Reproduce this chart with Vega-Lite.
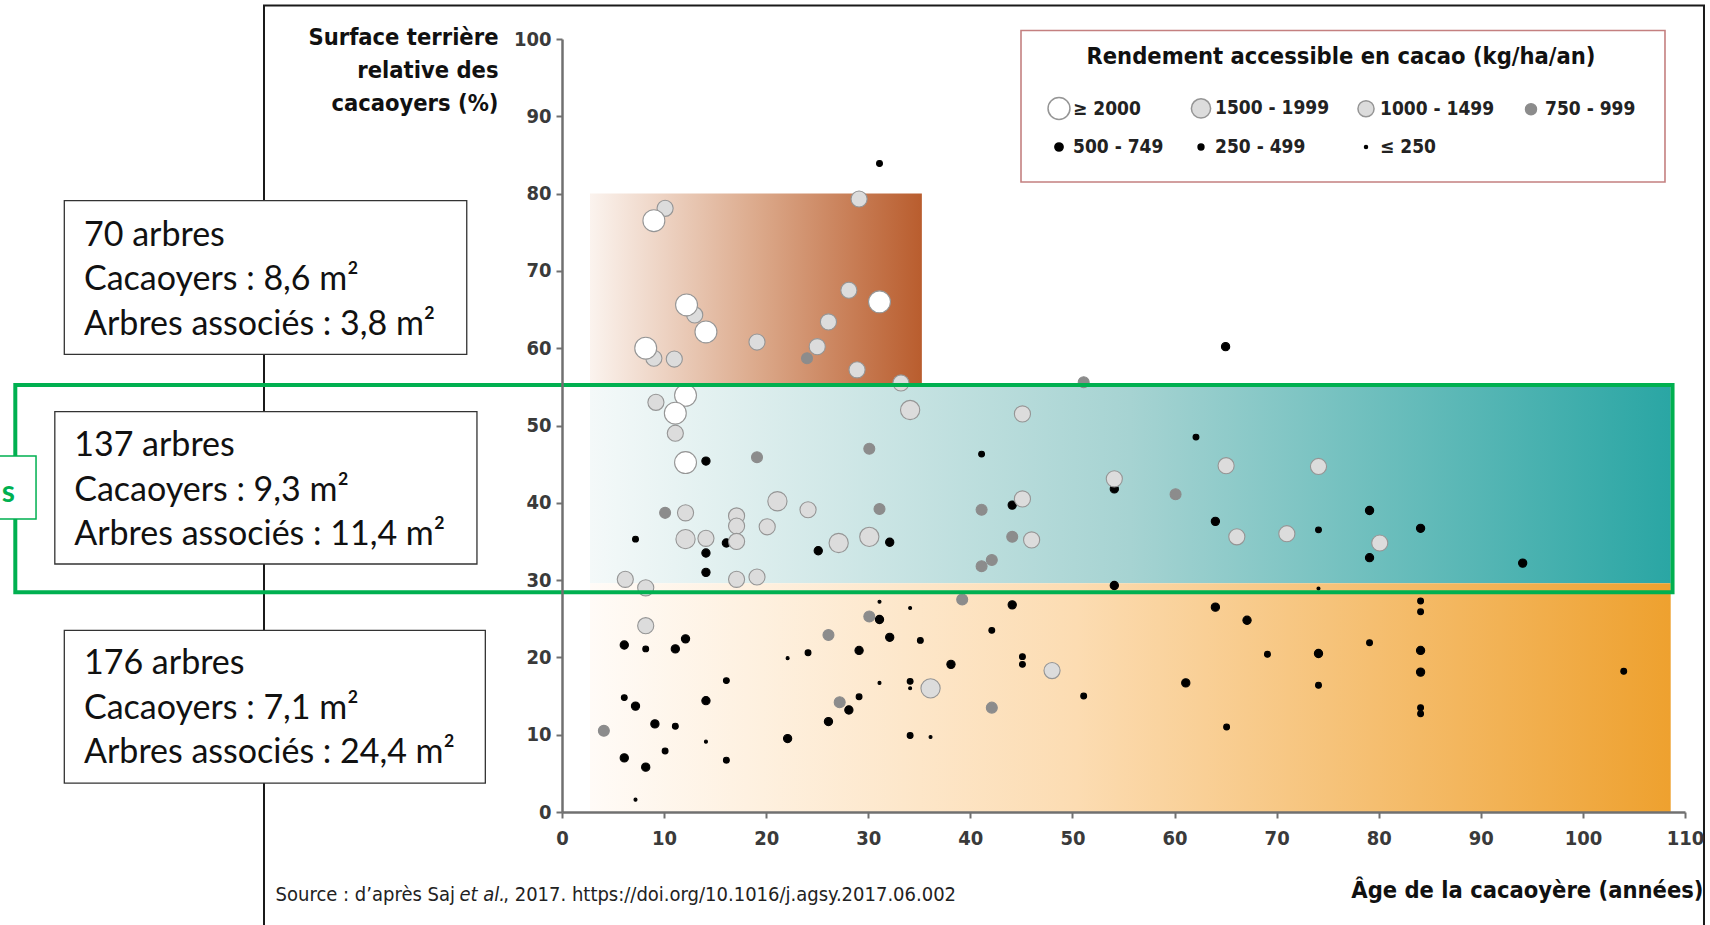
{
  "$schema": "https://vega.github.io/schema/vega-lite/v6.json",
  "width": 1123,
  "height": 773,
  "autosize": {"type": "none"},
  "padding": {"left": 562, "top": 39, "right": 25, "bottom": 113},
  "background": "white",
  "config": {
    "view": {"stroke": null},
    "legend": {
      "orient": "none",
      "legendX": 471,
      "legendY": -8,
      "direction": "horizontal",
      "columns": 4,
      "strokeColor": null,
      "padding": 14,
      "titleFont": "Liberation Sans Narrow, Arial Narrow, DejaVu Sans Condensed, sans-serif",
      "titleFontSize": 23.5,
      "titleFontWeight": "bold",
      "titleColor": "#111111",
      "titleAnchor": "middle",
      "titleLimit": 800,
      "titlePadding": 28,
      "labelFont": "Liberation Sans Narrow, Arial Narrow, DejaVu Sans Condensed, sans-serif",
      "labelFontSize": 19,
      "labelFontWeight": "bold",
      "labelColor": "#222222",
      "labelOffset": 2,
      "columnPadding": 24,
      "rowPadding": 15,
      "symbolType": "circle"
    }
  },
  "layer": [
    {
      "data": {"values": [{}]},
      "mark": {"type": "rect", "fill": "white", "fillOpacity": 0, "stroke": "#1a1a1a", "strokeWidth": 2},
      "encoding": {"x": {"datum": -29.19}, "x2": {"datum": 111.86}, "y": {"datum": 104.33}, "y2": {"datum": -16}}
    },
    {
      "data": {"values": [{}]},
      "mark": {"type": "rect", "fill": "white", "stroke": "#333333", "strokeWidth": 1.3},
      "encoding": {"x": {"datum": -48.75}, "x2": {"datum": -9.33}, "y": {"datum": 79.08}, "y2": {"datum": 59.2}}
    },
    {
      "data": {"values": [{}]},
      "mark": {"type": "rect", "fill": "white", "stroke": "#333333", "strokeWidth": 1.3},
      "encoding": {"x": {"datum": -49.68}, "x2": {"datum": -8.33}, "y": {"datum": 51.79}, "y2": {"datum": 32.08}}
    },
    {
      "data": {"values": [{}]},
      "mark": {"type": "rect", "fill": "white", "stroke": "#333333", "strokeWidth": 1.3},
      "encoding": {"x": {"datum": -48.75}, "x2": {"datum": -7.51}, "y": {"datum": 23.49}, "y2": {"datum": 3.74}}
    },
    {
      "data": {"values": [{}]},
      "mark": {"type": "text", "align": "left", "baseline": "middle", "font": "Lato", "fontSize": 34, "lineHeight": 44.6, "color": "#111111", "text": ["70 arbres", "Cacaoyers : 8,6 m²", "Arbres associés : 3,8 m²"]},
      "encoding": {"x": {"datum": -46.82}, "y": {"datum": 74.57}}
    },
    {
      "data": {"values": [{}]},
      "mark": {"type": "text", "align": "left", "baseline": "middle", "font": "Lato", "fontSize": 34, "lineHeight": 44.6, "color": "#111111", "text": ["137 arbres", "Cacaoyers : 9,3 m²", "Arbres associés : 11,4 m²"]},
      "encoding": {"x": {"datum": -47.78}, "y": {"datum": 47.34}}
    },
    {
      "data": {"values": [{}]},
      "mark": {"type": "text", "align": "left", "baseline": "middle", "font": "Lato", "fontSize": 34, "lineHeight": 44.6, "color": "#111111", "text": ["176 arbres", "Cacaoyers : 7,1 m²", "Arbres associés : 24,4 m²"]},
      "encoding": {"x": {"datum": -46.82}, "y": {"datum": 19.15}}
    },
    {
      "data": {"values": [{}]},
      "mark": {"type": "rect", "fill": {"gradient": "linear", "x1": 0, "y1": 0, "x2": 1, "y2": 0, "stops": [{"offset": 0, "color": "#fbf3ee"}, {"offset": 0.5, "color": "#dcaa8c"}, {"offset": 1, "color": "#b95d2e"}]}},
      "encoding": {"x": {"datum": 2.74}, "x2": {"datum": 35.25}, "y": {"datum": 80}, "y2": {"datum": 55.3}}
    },
    {
      "data": {"values": [{}]},
      "mark": {"type": "rect", "fill": {"gradient": "linear", "x1": 0, "y1": 0, "x2": 1, "y2": 0, "stops": [{"offset": 0, "color": "#f4f9f9"}, {"offset": 0.5, "color": "#a6d3d2"}, {"offset": 1, "color": "#2aa6a4"}]}},
      "encoding": {"x": {"datum": 2.74}, "x2": {"datum": 108.6}, "y": {"datum": 55.3}, "y2": {"datum": 29.6}}
    },
    {
      "data": {"values": [{}]},
      "mark": {"type": "rect", "fill": {"gradient": "linear", "x1": 0, "y1": 0, "x2": 1, "y2": 0, "stops": [{"offset": 0, "color": "#fffbf7"}, {"offset": 0.45, "color": "#fcdcb2"}, {"offset": 1, "color": "#eea12f"}]}},
      "encoding": {"x": {"datum": 2.74}, "x2": {"datum": 108.6}, "y": {"datum": 29.6}, "y2": {"datum": 0}}
    },
    {
      "data": {"values": [{}]},
      "mark": {"type": "rect", "fill": "white", "stroke": "#c48080", "strokeWidth": 1.6},
      "encoding": {"x": {"datum": 44.96}, "x2": {"datum": 108.04}, "y": {"datum": 101.1}, "y2": {"datum": 81.5}}
    },
    {
      "data": {"values": [
        {"age": 74.1, "surface": 28.9, "rendement": "≤ 250"},
        {"age": 14.1, "surface": 9.1, "rendement": "≤ 250"},
        {"age": 7.2, "surface": 1.6, "rendement": "≤ 250"},
        {"age": 22.1, "surface": 19.9, "rendement": "≤ 250"},
        {"age": 31.1, "surface": 27.2, "rendement": "≤ 250"},
        {"age": 34.1, "surface": 26.4, "rendement": "≤ 250"},
        {"age": 31.1, "surface": 16.7, "rendement": "≤ 250"},
        {"age": 36.1, "surface": 9.7, "rendement": "≤ 250"},
        {"age": 34.1, "surface": 16.0, "rendement": "≤ 250"},
        {"age": 31.1, "surface": 83.9, "rendement": "250 - 499"},
        {"age": 41.1, "surface": 46.3, "rendement": "250 - 499"},
        {"age": 62.1, "surface": 48.5, "rendement": "250 - 499"},
        {"age": 7.2, "surface": 35.3, "rendement": "250 - 499"},
        {"age": 74.1, "surface": 36.5, "rendement": "250 - 499"},
        {"age": 8.2, "surface": 21.1, "rendement": "250 - 499"},
        {"age": 16.1, "surface": 17.0, "rendement": "250 - 499"},
        {"age": 6.1, "surface": 14.8, "rendement": "250 - 499"},
        {"age": 11.1, "surface": 11.1, "rendement": "250 - 499"},
        {"age": 10.1, "surface": 7.9, "rendement": "250 - 499"},
        {"age": 16.1, "surface": 6.7, "rendement": "250 - 499"},
        {"age": 24.1, "surface": 20.6, "rendement": "250 - 499"},
        {"age": 35.1, "surface": 22.2, "rendement": "250 - 499"},
        {"age": 42.1, "surface": 23.5, "rendement": "250 - 499"},
        {"age": 45.1, "surface": 20.1, "rendement": "250 - 499"},
        {"age": 45.1, "surface": 19.1, "rendement": "250 - 499"},
        {"age": 34.1, "surface": 16.9, "rendement": "250 - 499"},
        {"age": 29.1, "surface": 14.9, "rendement": "250 - 499"},
        {"age": 34.1, "surface": 9.9, "rendement": "250 - 499"},
        {"age": 84.1, "surface": 27.3, "rendement": "250 - 499"},
        {"age": 84.1, "surface": 25.9, "rendement": "250 - 499"},
        {"age": 79.1, "surface": 21.9, "rendement": "250 - 499"},
        {"age": 69.1, "surface": 20.4, "rendement": "250 - 499"},
        {"age": 104.0, "surface": 18.2, "rendement": "250 - 499"},
        {"age": 74.1, "surface": 16.4, "rendement": "250 - 499"},
        {"age": 51.1, "surface": 15.0, "rendement": "250 - 499"},
        {"age": 84.1, "surface": 13.5, "rendement": "250 - 499"},
        {"age": 84.1, "surface": 12.7, "rendement": "250 - 499"},
        {"age": 65.1, "surface": 11.0, "rendement": "250 - 499"},
        {"age": 65.0, "surface": 60.2, "rendement": "500 - 749"},
        {"age": 14.1, "surface": 45.4, "rendement": "500 - 749"},
        {"age": 44.1, "surface": 39.7, "rendement": "500 - 749"},
        {"age": 16.1, "surface": 34.8, "rendement": "500 - 749"},
        {"age": 14.1, "surface": 33.5, "rendement": "500 - 749"},
        {"age": 14.1, "surface": 31.0, "rendement": "500 - 749"},
        {"age": 25.1, "surface": 33.8, "rendement": "500 - 749"},
        {"age": 32.1, "surface": 34.9, "rendement": "500 - 749"},
        {"age": 54.1, "surface": 41.8, "rendement": "500 - 749"},
        {"age": 64.0, "surface": 37.6, "rendement": "500 - 749"},
        {"age": 79.1, "surface": 39.0, "rendement": "500 - 749"},
        {"age": 79.1, "surface": 32.9, "rendement": "500 - 749"},
        {"age": 84.1, "surface": 36.7, "rendement": "500 - 749"},
        {"age": 94.1, "surface": 32.2, "rendement": "500 - 749"},
        {"age": 54.1, "surface": 29.3, "rendement": "500 - 749"},
        {"age": 6.1, "surface": 21.6, "rendement": "500 - 749"},
        {"age": 11.1, "surface": 21.1, "rendement": "500 - 749"},
        {"age": 12.1, "surface": 22.4, "rendement": "500 - 749"},
        {"age": 14.1, "surface": 14.4, "rendement": "500 - 749"},
        {"age": 7.2, "surface": 13.7, "rendement": "500 - 749"},
        {"age": 9.1, "surface": 11.4, "rendement": "500 - 749"},
        {"age": 6.1, "surface": 7.0, "rendement": "500 - 749"},
        {"age": 8.2, "surface": 5.8, "rendement": "500 - 749"},
        {"age": 22.1, "surface": 9.5, "rendement": "500 - 749"},
        {"age": 29.1, "surface": 20.9, "rendement": "500 - 749"},
        {"age": 31.1, "surface": 24.9, "rendement": "500 - 749"},
        {"age": 32.1, "surface": 22.6, "rendement": "500 - 749"},
        {"age": 44.1, "surface": 26.8, "rendement": "500 - 749"},
        {"age": 38.1, "surface": 19.1, "rendement": "500 - 749"},
        {"age": 28.1, "surface": 13.2, "rendement": "500 - 749"},
        {"age": 26.1, "surface": 11.7, "rendement": "500 - 749"},
        {"age": 64.0, "surface": 26.5, "rendement": "500 - 749"},
        {"age": 67.1, "surface": 24.8, "rendement": "500 - 749"},
        {"age": 74.1, "surface": 20.5, "rendement": "500 - 749"},
        {"age": 84.1, "surface": 20.9, "rendement": "500 - 749"},
        {"age": 84.1, "surface": 18.1, "rendement": "500 - 749"},
        {"age": 61.1, "surface": 16.7, "rendement": "500 - 749"},
        {"age": 24.0, "surface": 58.7, "rendement": "750 - 999"},
        {"age": 51.1, "surface": 55.6, "rendement": "750 - 999"},
        {"age": 19.1, "surface": 45.9, "rendement": "750 - 999"},
        {"age": 30.1, "surface": 47.0, "rendement": "750 - 999"},
        {"age": 10.1, "surface": 38.7, "rendement": "750 - 999"},
        {"age": 31.1, "surface": 39.2, "rendement": "750 - 999"},
        {"age": 41.1, "surface": 39.1, "rendement": "750 - 999"},
        {"age": 44.1, "surface": 35.6, "rendement": "750 - 999"},
        {"age": 42.1, "surface": 32.6, "rendement": "750 - 999"},
        {"age": 41.1, "surface": 31.8, "rendement": "750 - 999"},
        {"age": 60.1, "surface": 41.1, "rendement": "750 - 999"},
        {"age": 4.1, "surface": 10.5, "rendement": "750 - 999"},
        {"age": 26.1, "surface": 22.9, "rendement": "750 - 999"},
        {"age": 30.1, "surface": 25.3, "rendement": "750 - 999"},
        {"age": 39.2, "surface": 27.5, "rendement": "750 - 999"},
        {"age": 27.2, "surface": 14.2, "rendement": "750 - 999"},
        {"age": 42.1, "surface": 13.5, "rendement": "750 - 999"},
        {"age": 10.1, "surface": 78.1, "rendement": "1000 - 1499"},
        {"age": 29.1, "surface": 79.3, "rendement": "1000 - 1499"},
        {"age": 13.0, "surface": 64.3, "rendement": "1000 - 1499"},
        {"age": 9.0, "surface": 58.7, "rendement": "1000 - 1499"},
        {"age": 11.0, "surface": 58.6, "rendement": "1000 - 1499"},
        {"age": 19.1, "surface": 60.8, "rendement": "1000 - 1499"},
        {"age": 28.1, "surface": 67.5, "rendement": "1000 - 1499"},
        {"age": 26.1, "surface": 63.4, "rendement": "1000 - 1499"},
        {"age": 25.0, "surface": 60.2, "rendement": "1000 - 1499"},
        {"age": 28.9, "surface": 57.2, "rendement": "1000 - 1499"},
        {"age": 33.2, "surface": 55.5, "rendement": "1000 - 1499"},
        {"age": 9.2, "surface": 53.0, "rendement": "1000 - 1499"},
        {"age": 11.1, "surface": 49.0, "rendement": "1000 - 1499"},
        {"age": 45.1, "surface": 51.5, "rendement": "1000 - 1499"},
        {"age": 12.1, "surface": 38.7, "rendement": "1000 - 1499"},
        {"age": 24.1, "surface": 39.1, "rendement": "1000 - 1499"},
        {"age": 17.1, "surface": 38.3, "rendement": "1000 - 1499"},
        {"age": 17.1, "surface": 37.0, "rendement": "1000 - 1499"},
        {"age": 17.1, "surface": 35.0, "rendement": "1000 - 1499"},
        {"age": 20.1, "surface": 36.9, "rendement": "1000 - 1499"},
        {"age": 14.1, "surface": 35.4, "rendement": "1000 - 1499"},
        {"age": 45.1, "surface": 40.5, "rendement": "1000 - 1499"},
        {"age": 46.0, "surface": 35.2, "rendement": "1000 - 1499"},
        {"age": 6.2, "surface": 30.1, "rendement": "1000 - 1499"},
        {"age": 8.2, "surface": 29.0, "rendement": "1000 - 1499"},
        {"age": 17.1, "surface": 30.1, "rendement": "1000 - 1499"},
        {"age": 19.1, "surface": 30.4, "rendement": "1000 - 1499"},
        {"age": 54.1, "surface": 43.1, "rendement": "1000 - 1499"},
        {"age": 65.05, "surface": 44.8, "rendement": "1000 - 1499"},
        {"age": 74.1, "surface": 44.7, "rendement": "1000 - 1499"},
        {"age": 66.1, "surface": 35.6, "rendement": "1000 - 1499"},
        {"age": 71.0, "surface": 36.0, "rendement": "1000 - 1499"},
        {"age": 80.1, "surface": 34.8, "rendement": "1000 - 1499"},
        {"age": 8.2, "surface": 24.1, "rendement": "1000 - 1499"},
        {"age": 48.0, "surface": 18.3, "rendement": "1000 - 1499"},
        {"age": 34.1, "surface": 52.0, "rendement": "1500 - 1999"},
        {"age": 21.1, "surface": 40.2, "rendement": "1500 - 1999"},
        {"age": 12.1, "surface": 35.3, "rendement": "1500 - 1999"},
        {"age": 27.1, "surface": 34.8, "rendement": "1500 - 1999"},
        {"age": 30.1, "surface": 35.6, "rendement": "1500 - 1999"},
        {"age": 36.1, "surface": 16.0, "rendement": "1500 - 1999"},
        {"age": 9.0, "surface": 76.5, "rendement": "≥ 2000"},
        {"age": 12.2, "surface": 65.6, "rendement": "≥ 2000"},
        {"age": 14.1, "surface": 62.1, "rendement": "≥ 2000"},
        {"age": 8.2, "surface": 60.0, "rendement": "≥ 2000"},
        {"age": 31.1, "surface": 66.0, "rendement": "≥ 2000"},
        {"age": 12.1, "surface": 53.9, "rendement": "≥ 2000"},
        {"age": 11.1, "surface": 51.6, "rendement": "≥ 2000"},
        {"age": 12.1, "surface": 45.2, "rendement": "≥ 2000"}
      ]},
      "mark": {"type": "circle", "opacity": 1, "strokeWidth": 1.1},
      "encoding": {
        "x": {
          "field": "age", "type": "quantitative",
          "scale": {"domain": [0, 110], "nice": false, "zero": false},
          "axis": {
            "values": [0, 10, 20, 30, 40, 50, 60, 70, 80, 90, 100, 110],
            "title": "Âge de la cacaoyère (années)",
            "grid": false, "zindex": 1,
            "domainColor": "#707070", "domainWidth": 2.5,
            "tickColor": "#707070", "tickWidth": 2, "tickSize": 6,
            "labelFont": "Liberation Sans Narrow, Arial Narrow, DejaVu Sans Condensed, sans-serif",
            "labelFontSize": 20, "labelFontWeight": "bold", "labelColor": "#3a3a3a", "labelPadding": 10,
            "labelFlush": false, "labelOverlap": false,
            "titleFont": "Liberation Sans Narrow, Arial Narrow, DejaVu Sans Condensed, sans-serif",
            "titleFontSize": 23.5, "titleFontWeight": "bold", "titleColor": "#111111",
            "titleAnchor": "end", "titleAlign": "right", "titleX": 1141, "titleY": 78, "titleBaseline": "middle"
          }
        },
        "y": {
          "field": "surface", "type": "quantitative",
          "scale": {"domain": [0, 100], "nice": false, "zero": false},
          "axis": {
            "values": [0, 10, 20, 30, 40, 50, 60, 70, 80, 90, 100],
            "title": ["Surface terrière", "relative des", "cacaoyers (%)"],
            "grid": false, "zindex": 1,
            "domainColor": "#707070", "domainWidth": 2.5,
            "tickColor": "#707070", "tickWidth": 2, "tickSize": 6,
            "labelFont": "Liberation Sans Narrow, Arial Narrow, DejaVu Sans Condensed, sans-serif",
            "labelFontSize": 20, "labelFontWeight": "bold", "labelColor": "#3a3a3a", "labelPadding": 5,
            "labelFlush": false, "labelOverlap": false,
            "titleFont": "Liberation Sans Narrow, Arial Narrow, DejaVu Sans Condensed, sans-serif",
            "titleFontSize": 23.5, "titleFontWeight": "bold", "titleColor": "#111111",
            "titleAngle": 0, "titleAlign": "right", "titleBaseline": "top",
            "titleX": -64, "titleY": -14, "titleLineHeight": 33
          }
        },
        "fill": {
          "field": "rendement", "type": "ordinal",
          "title": "Rendement accessible en cacao (kg/ha/an)",
          "scale": {
            "type": "ordinal",
            "domain": ["≥ 2000", "1500 - 1999", "1000 - 1499", "750 - 999", "500 - 749", "250 - 499", "≤ 250"],
            "range": ["#ffffff", "#dcdcdc", "#dcdcdc", "#8c8c8c", "#000000", "#000000", "#000000"]
          }
        },
        "stroke": {
          "field": "rendement", "type": "ordinal",
          "title": "Rendement accessible en cacao (kg/ha/an)",
          "scale": {
            "type": "ordinal",
            "domain": ["≥ 2000", "1500 - 1999", "1000 - 1499", "750 - 999", "500 - 749", "250 - 499", "≤ 250"],
            "range": ["#959595", "#959595", "#959595", "#8c8c8c", "#000000", "#000000", "#000000"]
          }
        },
        "size": {
          "field": "rendement", "type": "ordinal",
          "title": "Rendement accessible en cacao (kg/ha/an)",
          "scale": {
            "type": "ordinal",
            "domain": ["≥ 2000", "1500 - 1999", "1000 - 1499", "750 - 999", "500 - 749", "250 - 499", "≤ 250"],
            "range": [480, 370, 260, 120, 68, 34, 9]
          }
        }
      }
    },
    {
      "data": {"values": [{}]},
      "mark": {"type": "rect", "fill": "white", "fillOpacity": 0, "stroke": "#00b050", "strokeWidth": 4},
      "encoding": {"x": {"datum": -53.55}, "x2": {"datum": 108.78}, "y": {"datum": 55.24}, "y2": {"datum": 28.43}}
    },
    {
      "data": {"values": [{}]},
      "mark": {"type": "rect", "fill": "white", "stroke": "#00b050", "strokeWidth": 1.5},
      "encoding": {"x": {"datum": -55.3}, "x2": {"datum": -51.52}, "y": {"datum": 46.05}, "y2": {"datum": 37.9}}
    },
    {
      "data": {"values": [{}]},
      "mark": {"type": "text", "align": "right", "baseline": "middle", "font": "Lato", "fontSize": 30, "fontWeight": "bold", "color": "#00b050", "text": "s"},
      "encoding": {"x": {"datum": -53.58}, "y": {"datum": 41.27}}
    },
    {
      "data": {"values": [{}]},
      "mark": {"type": "text", "align": "right", "baseline": "middle", "font": "Liberation Sans Narrow, Arial Narrow, DejaVu Sans Condensed, sans-serif", "fontSize": 20, "color": "#222222", "text": "Source : d’après Saj"},
      "encoding": {"x": {"datum": -10.48}, "y": {"datum": -10.74}}
    },
    {
      "data": {"values": [{}]},
      "mark": {"type": "text", "align": "left", "baseline": "middle", "font": "Liberation Sans Narrow, Arial Narrow, DejaVu Sans Condensed, sans-serif", "fontSize": 20, "fontStyle": "italic", "color": "#222222", "text": "et al."},
      "encoding": {"x": {"datum": -10.05}, "y": {"datum": -10.74}}
    },
    {
      "data": {"values": [{}]},
      "mark": {"type": "text", "align": "left", "baseline": "middle", "font": "Liberation Sans Narrow, Arial Narrow, DejaVu Sans Condensed, sans-serif", "fontSize": 20, "color": "#222222", "text": ", 2017. https://doi.org/10.1016/j.agsy.2017.06.002"},
      "encoding": {"x": {"datum": -5.75}, "y": {"datum": -10.74}}
    }
  ]
}
